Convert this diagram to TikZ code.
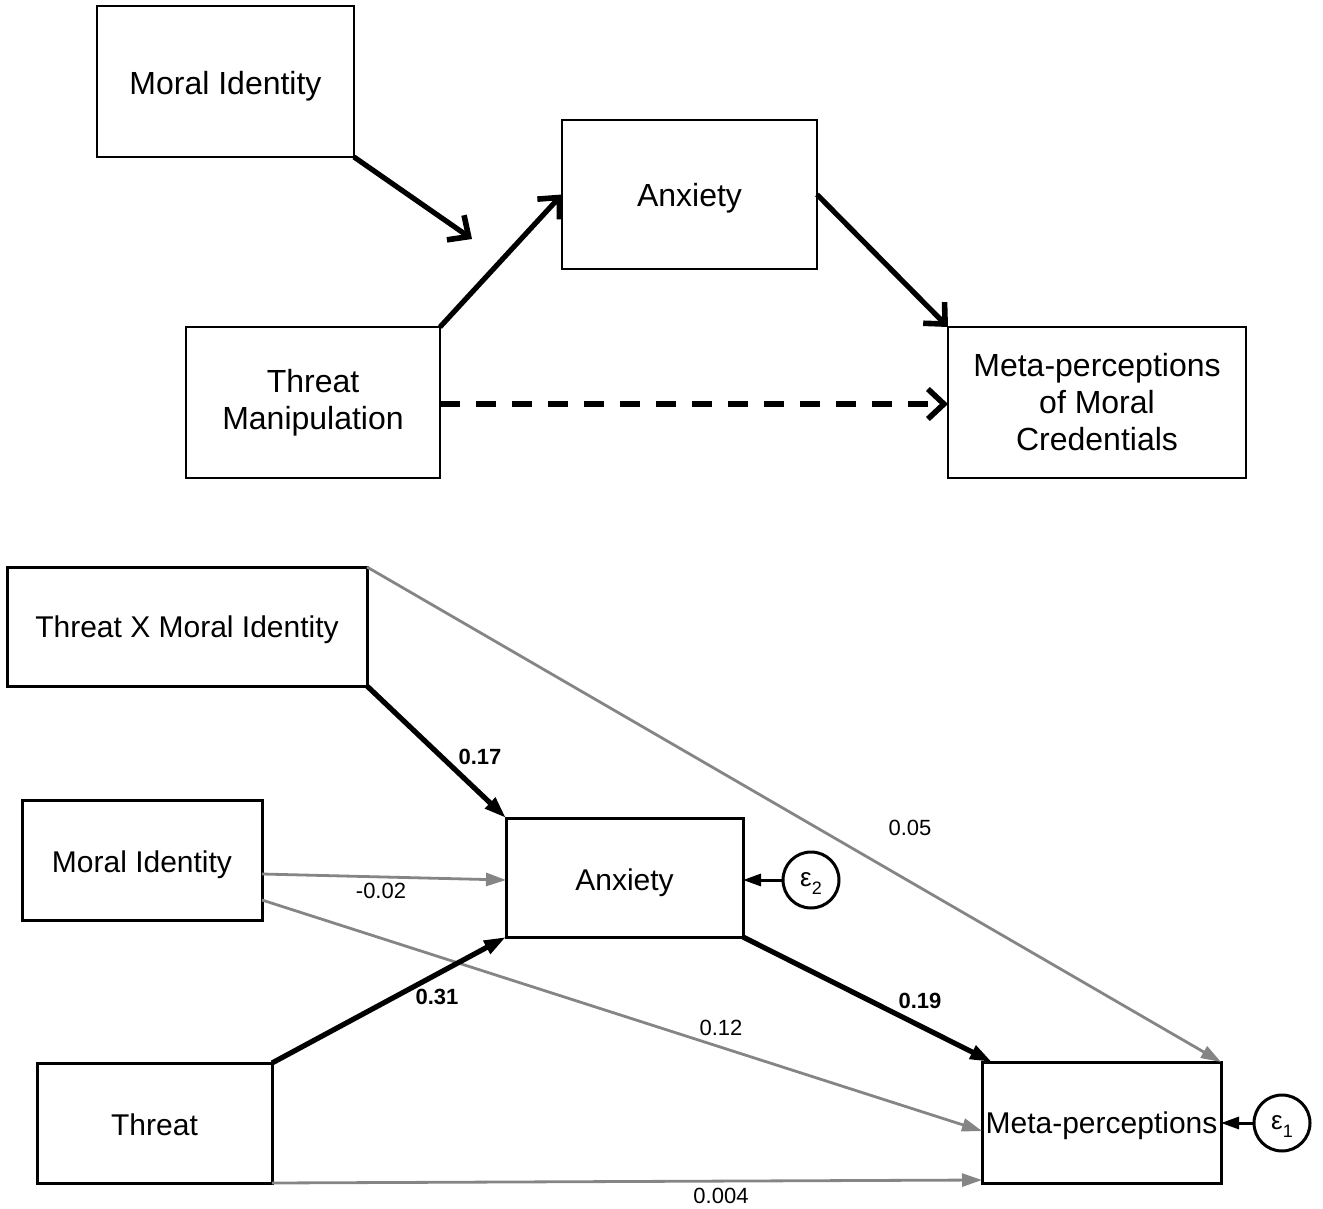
\documentclass[tikz,border=0pt]{standalone}
\usepackage{fontspec}
\setmainfont{Liberation Sans}
\usetikzlibrary{arrows.meta,calc}
\newcommand{\dn}[2]{\raisebox{-#1}[\height][\depth]{#2}}
\newcommand{\errsub}[1]{ε\raisebox{-0.55ex}[0pt][0pt]{\fontsize{9}{10}\selectfont #1}}
\begin{document}
\begin{tikzpicture}[x=0.5pt,y=-0.5pt,
  topbox/.style={draw, line width=0.8pt, inner sep=0pt, outer sep=0pt, align=center, font=\fontsize{16}{18.5}\selectfont},
  botbox/.style={draw, line width=1.5pt, inner sep=0pt, outer sep=0pt, align=center, font=\fontsize{15}{17}\selectfont},
  toparrow/.style={line width=2.6pt, -{Straight Barb[length=8pt,width=15pt,line width=2.8pt]}},
  blackarrow/.style={line width=2.6pt, -{Triangle[length=11pt,width=7pt]}},
  grayarrow/.style={draw=black!48, line width=1.4pt, -{Triangle[length=10pt,width=6.5pt]}},
  errarrow/.style={line width=1.5pt, -{Triangle[length=9pt,width=6pt]}},
  errcirc/.style={draw, circle, line width=1.5pt, minimum size=28pt, inner sep=0pt, font=\fontsize{13}{15}\selectfont},
  lab/.style={font=\fontsize{11}{13}\selectfont, inner sep=1pt},
  blab/.style={font=\fontsize{11}{13}\selectfont\bfseries, inner sep=1pt}
]
\useasboundingbox (0,0) rectangle (1323,1209);
% ---------- top diagram ----------
\node[topbox, minimum width=128.5pt, minimum height=75.5pt] (mi1) at (225.5,81.5) {\dn{2.5pt}{Moral Identity}};
\node[topbox, minimum width=127.5pt, minimum height=74.5pt] (anx1) at (689.5,194.5) {\dn{2pt}{Anxiety}};
\node[topbox, minimum width=127pt, minimum height=75.5pt] (thr1) at (313,402.5) {Threat\\Manipulation};
\node[topbox, minimum width=149pt, minimum height=75.5pt] (meta1) at (1097,402.5) {Meta-perceptions\\of Moral\\Credentials};
\coordinate (modtip) at (472,239);
\draw[toparrow] (mi1.south east) -- (modtip);
\draw[toparrow] (thr1.north east) -- (anx1.west);
\draw[toparrow] (anx1.east) -- (meta1.north west);
\draw[toparrow, dash pattern=on 10pt off 8pt] ([yshift=-0.75pt]thr1.east) -- ([yshift=-0.75pt]meta1.west);
% ---------- bottom diagram ----------
\node[botbox, minimum width=180pt, minimum height=59.5pt] (txmi) at (187,626.5) {\dn{1.5pt}{Threat X Moral Identity}};
\node[botbox, minimum width=120pt, minimum height=60pt] (mi2) at (142,860) {\dn{2.5pt}{Moral Identity}};
\node[botbox, minimum width=118.5pt, minimum height=59.5pt] (anx2) at (624.5,877.5) {\dn{2.5pt}{Anxiety}};
\node[botbox, minimum width=117.5pt, minimum height=60pt] (thr2) at (154.5,1123) {\dn{1pt}{Threat}};
\node[botbox, minimum width=119.5pt, minimum height=60.5pt] (meta2) at (1101.5,1122.5) {\dn{1.5pt}{Meta-perceptions}};
\node[errcirc] (e2) at (811,880) {\dn{0pt}{\errsub{2}}};
\node[errcirc] (e1) at (1282,1123) {\dn{0pt}{\errsub{1}}};
% gray paths
\draw[grayarrow] (txmi.north east) -- (meta2.north east);
\draw[grayarrow] ([yshift=-7pt]mi2.east) -- ([yshift=-1.25pt]anx2.west);
\draw[grayarrow] ([yshift=-20pt]mi2.east) -- ([yshift=-4.25pt]meta2.west);
\draw[grayarrow] (thr2.south east) -- ([yshift=1.5pt]meta2.south west);
% black paths
\draw[blackarrow] (txmi.south east) -- (anx2.north west);
\draw[blackarrow] (thr2.north east) -- (anx2.south west);
\draw[blackarrow] (anx2.south east) -- ([xshift=5pt]meta2.north west);
% errors
\draw[errarrow] (e2) -- (anx2.east |- e2);
\draw[errarrow] (e1) -- (meta2.east |- e1);
% labels
\node[blab] (l017) at (480,757) {0.17};
\node[blab] (l031) at (437,997) {0.31};
\node[blab] (l019) at (920,1001) {0.19};
\node[lab] (l005) at (910,828) {0.05};
\node[lab] (l002) at (381,891) {-0.02};
\node[lab] (l012) at (721,1028) {0.12};
\node[lab] (l0004) at (721,1196) {0.004};
\end{tikzpicture}
\end{document}
